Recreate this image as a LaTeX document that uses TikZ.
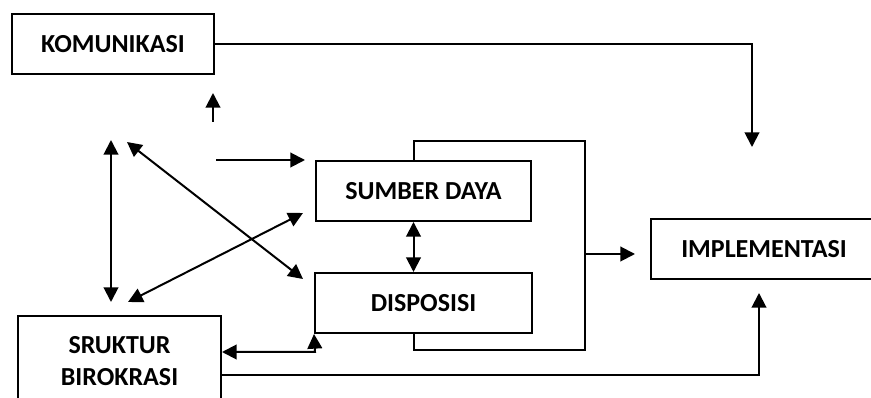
\documentclass[tikz,border=0pt]{standalone}
\usepackage{fontspec}
\setmainfont{Carlito}
\usetikzlibrary{arrows.meta}

\tikzset{
  box/.style={draw,line width=1.5pt,align=center,inner sep=0pt,
    font=\fontsize{19.5}{24}\selectfont\bfseries},
  arr/.style={line width=1.5pt,-{Triangle[length=11pt,width=11pt]}},
  darr/.style={line width=1.5pt,{Triangle[length=11pt,width=11pt]}-{Triangle[length=11pt,width=11pt]}}
}

\begin{document}
\begin{tikzpicture}[x=0.75pt,y=-0.75pt]
  \useasboundingbox (0,0) rectangle (871,398);
  \clip (0,0) rectangle (871,398);
  % boxes
  \node[box,minimum width=151.5pt,minimum height=45pt] (kom) at (113,44) {KOMUNIKASI};
  \node[box,minimum width=161.25pt,minimum height=45pt] (sumber) at (423.5,191) {SUMBER DAYA};
  \node[box,minimum width=162.75pt,minimum height=45pt] (disp) at (423.5,303) {DISPOSISI};
  \node[box,minimum width=169.5pt,minimum height=45pt] (impl) at (764,249) {IMPLEMENTASI};
  \node[box,minimum width=152.25pt,minimum height=67.5pt] (struk) at (119.5,361) {SRUKTUR\\BIROKRASI};
  % free ends
  \coordinate (komIn) at (752,147);
  \coordinate (upA) at (213,122);
  \coordinate (upB) at (213,93);
  \coordinate (vertA) at (111,140);
  \coordinate (vertB) at (111,302);
  \coordinate (diagA) at (127,142);
  \coordinate (diagB) at (303,279);
  \coordinate (diagC) at (128,302);
  \coordinate (diagD) at (303,213);
  \coordinate (horA) at (216,160);
  \coordinate (horB) at (305,160);
  \coordinate (brTop) at (585,141);
  \coordinate (brBot) at (585,350);
  \coordinate (brOut) at (585,254);
  \coordinate (implL) at (635,254);
  \coordinate (dsCorner) at (315,352);
  \coordinate (bendB) at (759,375);
  \coordinate (implIn) at (759,293);
  % connectors
  \draw[arr] (kom.east) -| (komIn);
  \draw[arr] (upA) -- (upB);
  \draw[darr] (vertA) -- (vertB);
  \draw[darr] (diagA) -- (diagB);
  \draw[darr] (diagC) -- (diagD);
  \draw[arr] (horA) -- (horB);
  \draw[darr] ([xshift=-7.5pt]sumber.south) -- ([xshift=-7.5pt]disp.north);
  \draw[line width=1.5pt] ([xshift=-7.5pt]sumber.north) |- (brTop) -- (brBot)
    -| ([xshift=-7pt]disp.south);
  \draw[arr] (brOut) -- (implL);
  \draw[darr] (struk.east |- dsCorner) -- (dsCorner) -- (disp.south west);
  \draw[arr] (struk.east |- bendB) -- (bendB) -- (implIn);
\end{tikzpicture}
\end{document}
